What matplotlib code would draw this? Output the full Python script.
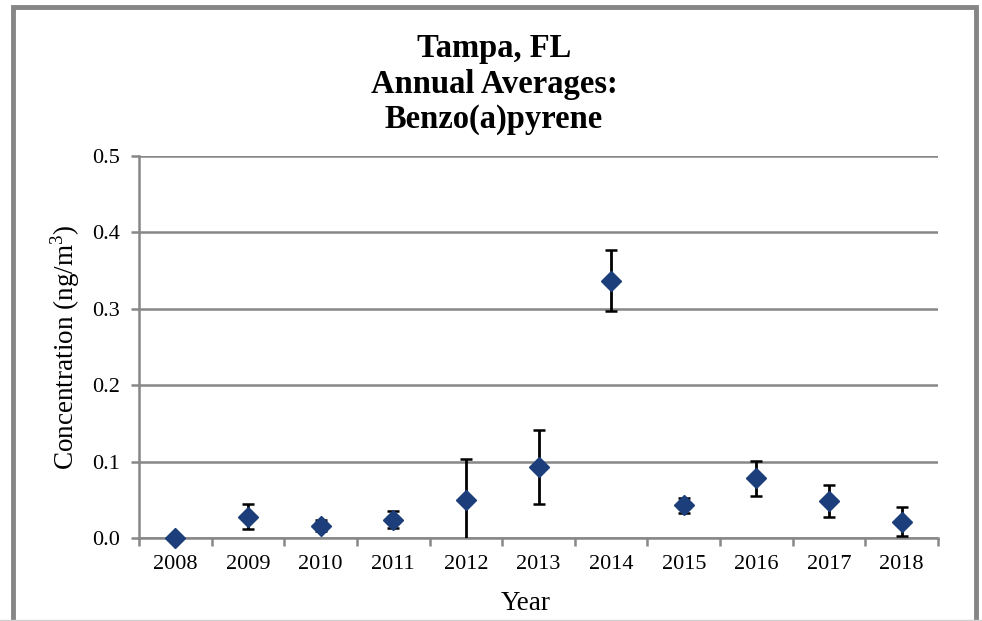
import matplotlib
matplotlib.use('Agg')
import matplotlib.pyplot as plt
import matplotlib.patches as patches
import numpy as np

matplotlib.rcParams['font.family'] = 'Liberation Serif'
matplotlib.rcParams['mathtext.fontset'] = 'custom'
matplotlib.rcParams['mathtext.rm'] = 'Liberation Serif'

# values
years = ['2008', '2009', '2010', '2011', '2012', '2013', '2014', '2015', '2016', '2017', '2018']
conc = [0.0, 0.028, 0.016, 0.024, 0.050, 0.093, 0.337, 0.043, 0.078, 0.048, 0.021]
err = [0.0, 0.016, 0.007, 0.011, 0.054, 0.049, 0.040, 0.010, 0.023, 0.021, 0.019]
yticks = [0.0, 0.1, 0.2, 0.3, 0.4, 0.5]
title_lines = ['Tampa, FL', 'Annual Averages:', 'Benzo(a)pyrene']

W, H = 982, 621
fig = plt.figure(figsize=(W / 100, H / 100), dpi=100)
ax = fig.add_axes([139 / W, 1 - 538 / H, (938 - 139) / W, (538 - 156) / H])

x = np.arange(len(years))
conc = np.array(conc)
err = np.array(err)
has_err = err > 0

grid_col = '#878787'
ax.errorbar(x[has_err], conc[has_err], yerr=err[has_err], fmt='none',
            ecolor='black', elinewidth=2.0, capsize=4.3, capthick=1.8, zorder=3)
ax.plot(x, conc, linestyle='none', marker='D', markersize=10.5,
        color='#1c3f7c', markeredgecolor='#1c3f7c', zorder=4, clip_on=False)

ax.set_xlim(-0.5, len(years) - 0.5)
ax.set_ylim(0, 0.5)
ax.set_yticks(yticks)
ax.set_yticklabels([f'{v:.1f}' for v in yticks])
ax.yaxis.grid(True, color=grid_col, linewidth=1.8)
ax.set_axisbelow(True)

# category labels centred, tick marks on boundaries
ax.set_xticks(x)
ax.set_xticklabels(years)
ax.set_xticks(np.arange(len(years) + 1) - 0.5, minor=True)
ax.tick_params(axis='x', which='major', length=0, pad=12, labelsize=16)
ax.tick_params(axis='x', which='minor', length=6, width=1.8, color=grid_col)
ax.tick_params(axis='y', length=6, width=1.8, color=grid_col, pad=8, labelsize=16)

for side in ['top', 'right']:
    ax.spines[side].set_visible(False)
for side in ['left', 'bottom']:
    ax.spines[side].set_color(grid_col)
    ax.spines[side].set_linewidth(1.8)

fig.text(65 / W, 1 - 347 / H, 'Concentration (ng/m$^3$)', rotation=90,
         ha='center', va='center', fontsize=19.5)
fig.text(526 / W, 1 - 610 / H, 'Year', ha='center', va='baseline', fontsize=19.5)

baselines = [57, 93, 128]
for line, b in zip(title_lines, baselines):
    fig.text(494 / W, 1 - b / H, line, ha='center', va='baseline',
             fontsize=23.5, fontweight='bold')

# grey frame around the chart area
frame = patches.Rectangle((12.5 / W, -0.05), (975.5 - 12.5) / W, 1.05 - 7 / H,
                          transform=fig.transFigure, fill=False,
                          edgecolor='#868686', linewidth=3.5)
fig.patches.append(frame)
fig.add_artist(plt.Line2D([0, 1], [0.8 / H, 0.8 / H], color='#d0d0d0', linewidth=1))

fig.savefig('out.png', dpi=100)
